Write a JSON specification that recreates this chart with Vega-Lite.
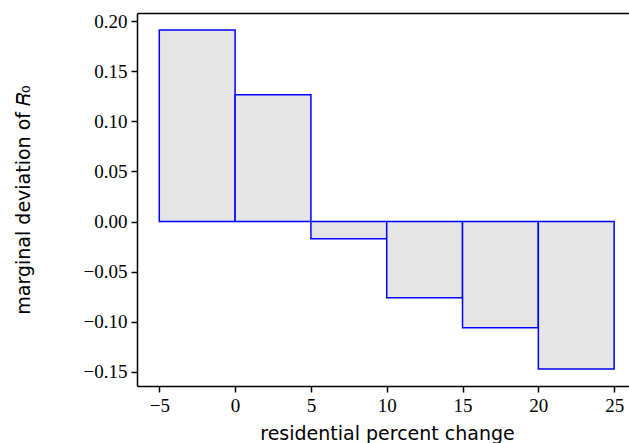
{
  "$schema": "https://vega.github.io/schema/vega-lite/v6.json",
  "autosize": {"type": "none"},
  "width": 492,
  "height": 373,
  "padding": {"left": 137, "top": 13, "right": 0, "bottom": 57},
  "background": "white",
  "view": {"stroke": null},
  "config": {
    "axis": {
      "grid": false,
      "domainColor": "black",
      "domainWidth": 1.5,
      "tickColor": "black",
      "tickWidth": 1.5,
      "tickSize": 6,
      "labelFont": "Liberation Serif",
      "labelFontSize": 19,
      "labelColor": "black",
      "labelPadding": 4,
      "titleFont": "DejaVu Sans",
      "titleFontSize": 19,
      "titleFontWeight": "normal",
      "titleColor": "black"
    }
  },
  "data": {
    "values": [
      {"lo": -5, "hi": 0, "dev": 0.1913},
      {"lo": 0, "hi": 5, "dev": 0.1267},
      {"lo": 5, "hi": 10, "dev": -0.0173},
      {"lo": 10, "hi": 15, "dev": -0.076},
      {"lo": 15, "hi": 20, "dev": -0.106},
      {"lo": 20, "hi": 25, "dev": -0.1473}
    ]
  },
  "layer": [
    {
      "mark": {"type": "rect", "fill": "#e5e5e5", "stroke": "#0000ff", "strokeWidth": 1.5},
      "encoding": {
        "x": {
          "field": "lo", "type": "quantitative",
          "scale": {"domain": [-6.47, 25.98], "nice": false, "zero": false},
          "axis": {
            "orient": "bottom",
            "values": [-5, 0, 5, 10, 15, 20, 25],
            "format": "d",
            "title": "residential percent change",
            "titlePadding": 9,
            "labelFlush": false,
            "titleX": 250
          }
        },
        "x2": {"field": "hi"},
        "y": {
          "field": "dev", "type": "quantitative",
          "scale": {"domain": [-0.1642, 0.2082], "nice": false, "zero": false},
          "axis": {
            "values": [-0.15, -0.1, -0.05, 0, 0.05, 0.1, 0.15, 0.2],
            "format": ".2f",
            "title": "marginal deviation of 𝑅₀",
            "titlePadding": 50,
            "labelFlush": false
          }
        },
        "y2": {"datum": 0}
      }
    },
    {
      "mark": {"type": "rect", "opacity": 0},
      "encoding": {
        "x": {
          "field": "lo", "type": "quantitative",
          "axis": {"orient": "top", "ticks": false, "labels": false, "title": null}
        },
        "x2": {"field": "hi"},
        "y": {"field": "dev", "type": "quantitative"},
        "y2": {"datum": 0}
      }
    }
  ],
  "resolve": {"axis": {"x": "independent"}}
}
